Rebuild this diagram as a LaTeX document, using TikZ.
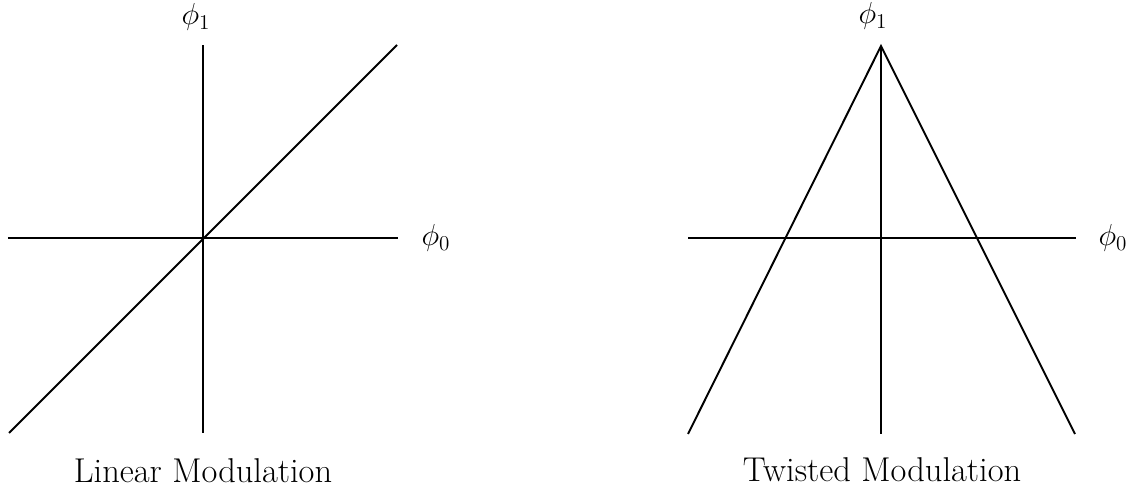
\documentclass[tikz,border=0pt]{standalone}
\usepackage{amsmath}
\begin{document}
\begin{tikzpicture}[
        axis/.style={line width=0.9pt},
        curve/.style={line width=1.1pt},
        axlabel/.style={font=\LARGE, inner sep=0pt},
        caption/.style={font=\fontsize{19.6}{23}\selectfont, inner sep=0pt}
      ]
      \useasboundingbox (-4.06,-5.04) rectangle (18.64,4.76);

      % linear modulation
      \draw[axis] (-3.9,0) -- (3.9,0);
      \draw[axis] (0,-3.9) -- (0,3.86);
      \draw[curve] (-3.88,-3.9) -- (3.88,3.86);
      \node[axlabel] (linphi1) at (-0.14,4.42) {$\phi_1$};
      \node[axlabel] (linphi0) at (4.66,0) {$\phi_0$};
      \node[caption] (lincap) at (0,-4.66) {Linear Modulation};

      % twisted modulation
      \begin{scope}[xshift=13.56cm]
        \draw[axis] (-3.86,0) -- (3.9,0);
        \draw[axis] (0,-3.92) -- (0,3.84);
        \coordinate (apex) at (0,3.84);
        \draw[curve] (-3.86,-3.92) -- (apex) -- (3.88,-3.92);
        \node[axlabel] (twphi1) at (-0.16,4.44) {$\phi_1$};
        \node[axlabel] (twphi0) at (4.64,0) {$\phi_0$};
        \node[caption] (twcap) at (0.02,-4.64) {Twisted Modulation};
      \end{scope}
    \end{tikzpicture}
\end{document}
